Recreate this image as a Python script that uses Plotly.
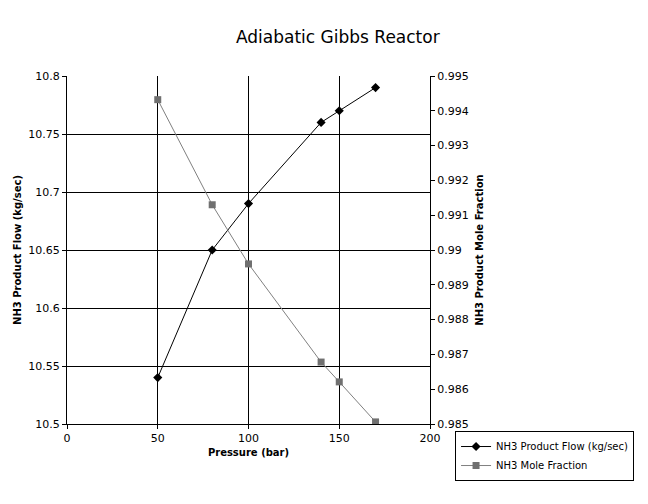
import plotly.graph_objects as go

pressure = [50, 80, 100, 140, 150, 170]
flow = [10.54, 10.65, 10.69, 10.76, 10.77, 10.79]
mole_frac = [0.99432, 0.99130, 0.98960, 0.98678, 0.98621, 0.98506]

font_fam = "DejaVu Sans, Verdana, sans-serif"

fig = go.Figure()
fig.add_trace(go.Scatter(
    x=pressure, y=flow, name="NH3 Product Flow (kg/sec)",
    mode="lines+markers",
    line=dict(color="black", width=1),
    marker=dict(symbol="diamond", size=7, color="black"),
    yaxis="y"))
fig.add_trace(go.Scatter(
    x=pressure, y=mole_frac, name="NH3 Mole Fraction",
    mode="lines+markers",
    line=dict(color="#808080", width=1),
    marker=dict(symbol="square", size=7, color="#707070"),
    yaxis="y2"))

fig.update_layout(
    width=648, height=504,
    margin=dict(l=59, r=226, t=68, b=88, autoexpand=False),
    paper_bgcolor="white", plot_bgcolor="white",
    font=dict(family=font_fam, size=11, color="black"),
    title=dict(text="Adiabatic Gibbs Reactor", x=0.509, xref="container",
               xanchor="center", y=0.942, yref="container", yanchor="middle",
               font=dict(size=17, family=font_fam)),
    xaxis=dict(range=[0, 200], dtick=50, showline=True, linecolor="black",
               linewidth=1, ticks="outside", ticklen=4, tickcolor="black",
               showgrid=True, gridcolor="black", gridwidth=1, zeroline=False,
               automargin=False,
               title=dict(text="<b>Pressure (bar)</b>", font=dict(size=10), standoff=4),
               tickfont=dict(size=11)),
    yaxis=dict(range=[10.5, 10.8], dtick=0.05, showline=True, linecolor="black",
               linewidth=1, ticks="outside", ticklen=4, tickcolor="black",
               showgrid=True, gridcolor="black", gridwidth=1, zeroline=False,
               automargin=False,
               title=dict(text="<b>NH3 Product Flow (kg/sec)</b>", font=dict(size=10), standoff=4),
               tickfont=dict(size=11)),
    yaxis2=dict(range=[0.985, 0.995], dtick=0.001, overlaying="y", side="right",
                showline=True, linecolor="black", linewidth=1, ticks="outside",
                ticklen=4, tickcolor="black", showgrid=False, zeroline=False,
                automargin=False,
                title=dict(text="<b>NH3 Product Mole Fraction</b>", font=dict(size=10), standoff=8),
                tickfont=dict(size=11)),
    legend=dict(x=1.069, y=-0.092, xanchor="left", yanchor="middle",
                bordercolor="black", borderwidth=1, bgcolor="white",
                font=dict(size=10), tracegroupgap=0, itemwidth=30),
    showlegend=True,
)

fig.write_html("out.html")
